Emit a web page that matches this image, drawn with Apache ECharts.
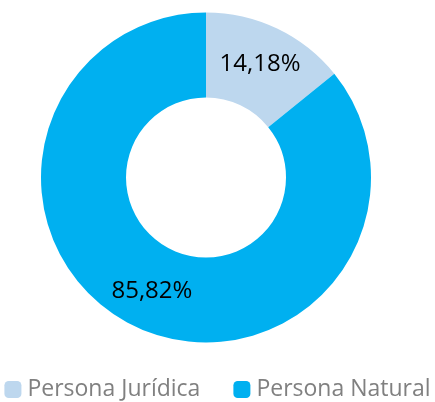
<!DOCTYPE html>
<html><head><meta charset="utf-8">
<script src="https://cdn.jsdelivr.net/npm/echarts@6/dist/echarts.min.js"></script>
<style>html,body{margin:0;padding:0;background:#fff}#c{width:435px;height:402px}</style>
</head><body><div id="c"></div>
<script>
const categories = ['Persona Jurídica', 'Persona Natural'];
const values = [14.18, 85.82];
const colors = ['#BDD7EE', '#00B0F0'];
const chart = echarts.init(document.getElementById('c'), null, {renderer: 'canvas'});
chart.setOption({
  animation: false,
  legend: {
    top: 378,
    left: 'center',
    padding: 0,
    itemWidth: 17,
    itemHeight: 17,
    itemGap: 33,
    icon: 'roundRect',
    textStyle: {fontFamily: 'Open Sans', fontSize: 23, color: '#808080', padding: [0, 0, 0, 1]},
    data: categories
  },
  series: [{
    type: 'pie',
    center: [206, 177.5],
    radius: [80, 165],
    startAngle: 90,
    clockwise: true,
    label: {
      position: 'inside',
      fontFamily: 'Open Sans',
      fontSize: 24,
      color: '#000',
      formatter: p => p.value.toFixed(2).replace('.', ',') + '%'
    },
    labelLine: {show: false},
    itemStyle: {borderWidth: 0},
    emphasis: {disabled: true},
    data: categories.map((n, i) => ({name: n, value: values[i], itemStyle: {color: colors[i]}}))
  }]
});
</script></body></html>
